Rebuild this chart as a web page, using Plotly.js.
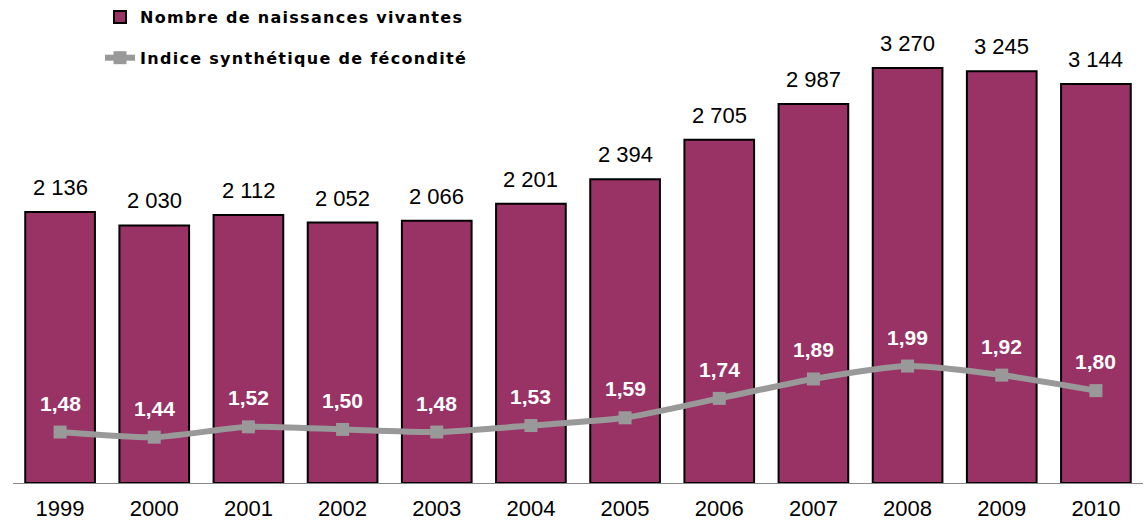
<!DOCTYPE html>
<html>
<head>
<meta charset="utf-8">
<script src="https://cdn.plot.ly/plotly-3.0.1.min.js"></script>
<style>
html,body{margin:0;padding:0;background:#fff;}
.legendtext{letter-spacing:1.3px;}
</style>
</head>
<body>
<div id="chart" style="width:1147px;height:522px;"></div>
<script>
const years = ["1999","2000","2001","2002","2003","2004","2005","2006","2007","2008","2009","2010"];
const naissances = [2136, 2030, 2112, 2052, 2066, 2201, 2394, 2705, 2987, 3270, 3245, 3144];
const isf = [1.48, 1.44, 1.52, 1.50, 1.48, 1.53, 1.59, 1.74, 1.89, 1.99, 1.92, 1.80];
const seriesNames = ["Nombre de naissances vivantes", "Indice synthétique de fécondité"];

const fmtInt = v => String(v).replace(/\B(?=(\d{3})+(?!\d))/g, " ");
const fmtDec = v => v.toFixed(2).replace(".", ",");

const barTrace = {
  type: "bar",
  x: years,
  y: naissances,
  name: seriesNames[0],
  legendgroup: "a",
  marker: {color: "#993366", line: {color: "#000000", width: 2}},
  hoverinfo: "skip"
};
const lineTrace = {
  type: "scatter",
  mode: "lines+markers",
  x: years,
  y: isf,
  yaxis: "y2",
  name: seriesNames[1],
  legendgroup: "b",
  line: {color: "#999999", width: 6, shape: "spline", smoothing: 0.6},
  marker: {symbol: "square", size: 13, color: "#999999"},
  hoverinfo: "skip"
};

const annotations = [];
years.forEach((yr, i) => {
  annotations.push({
    x: i, y: naissances[i], xref: "x", yref: "y",
    text: fmtInt(naissances[i]), showarrow: false,
    yanchor: "bottom", yshift: 10,
    font: {family: "Liberation Sans, Arial, sans-serif", size: 22, color: "#000"}
  });
  annotations.push({
    x: i, y: isf[i], xref: "x", yref: "y2",
    text: fmtDec(isf[i]), showarrow: false,
    yanchor: "middle", yshift: 29,
    font: {family: "Liberation Sans, Arial, sans-serif", size: 21, color: "#ffffff", weight: "bold"}
  });
});

const layout = {
  width: 1147, height: 522,
  margin: {l: 13, r: 4, t: 0, b: 39, autoexpand: false},
  paper_bgcolor: "#ffffff",
  plot_bgcolor: "#ffffff",
  bargap: 0.26,
  showlegend: true,
  legend: {
    x: 0.077, y: 1.0, xanchor: "left", yanchor: "top",
    traceorder: "grouped", tracegroupgap: 17,
    font: {family: "DejaVu Sans, sans-serif", size: 16, color: "#000", weight: "bold"},
    bgcolor: "rgba(0,0,0,0)"
  },
  xaxis: {
    type: "category",
    range: [-0.5, 11.5], autorange: false,
    showline: true, linecolor: "#888888", linewidth: 1,
    ticks: "", showgrid: false, zeroline: false,
    ticklabelstandoff: 6,
    tickfont: {family: "Liberation Sans, Arial, sans-serif", size: 22, color: "#000"},
    fixedrange: true
  },
  yaxis: {
    range: [0, 3806], autorange: false, visible: false, showgrid: false, zeroline: false, fixedrange: true
  },
  yaxis2: {
    range: [1.086, 4.819], autorange: false, overlaying: "y", visible: false, showgrid: false, zeroline: false, fixedrange: true
  },
  annotations: annotations
};

Plotly.newPlot("chart", [barTrace, lineTrace], layout, {displayModeBar: false, staticPlot: true});
</script>
</body>
</html>
